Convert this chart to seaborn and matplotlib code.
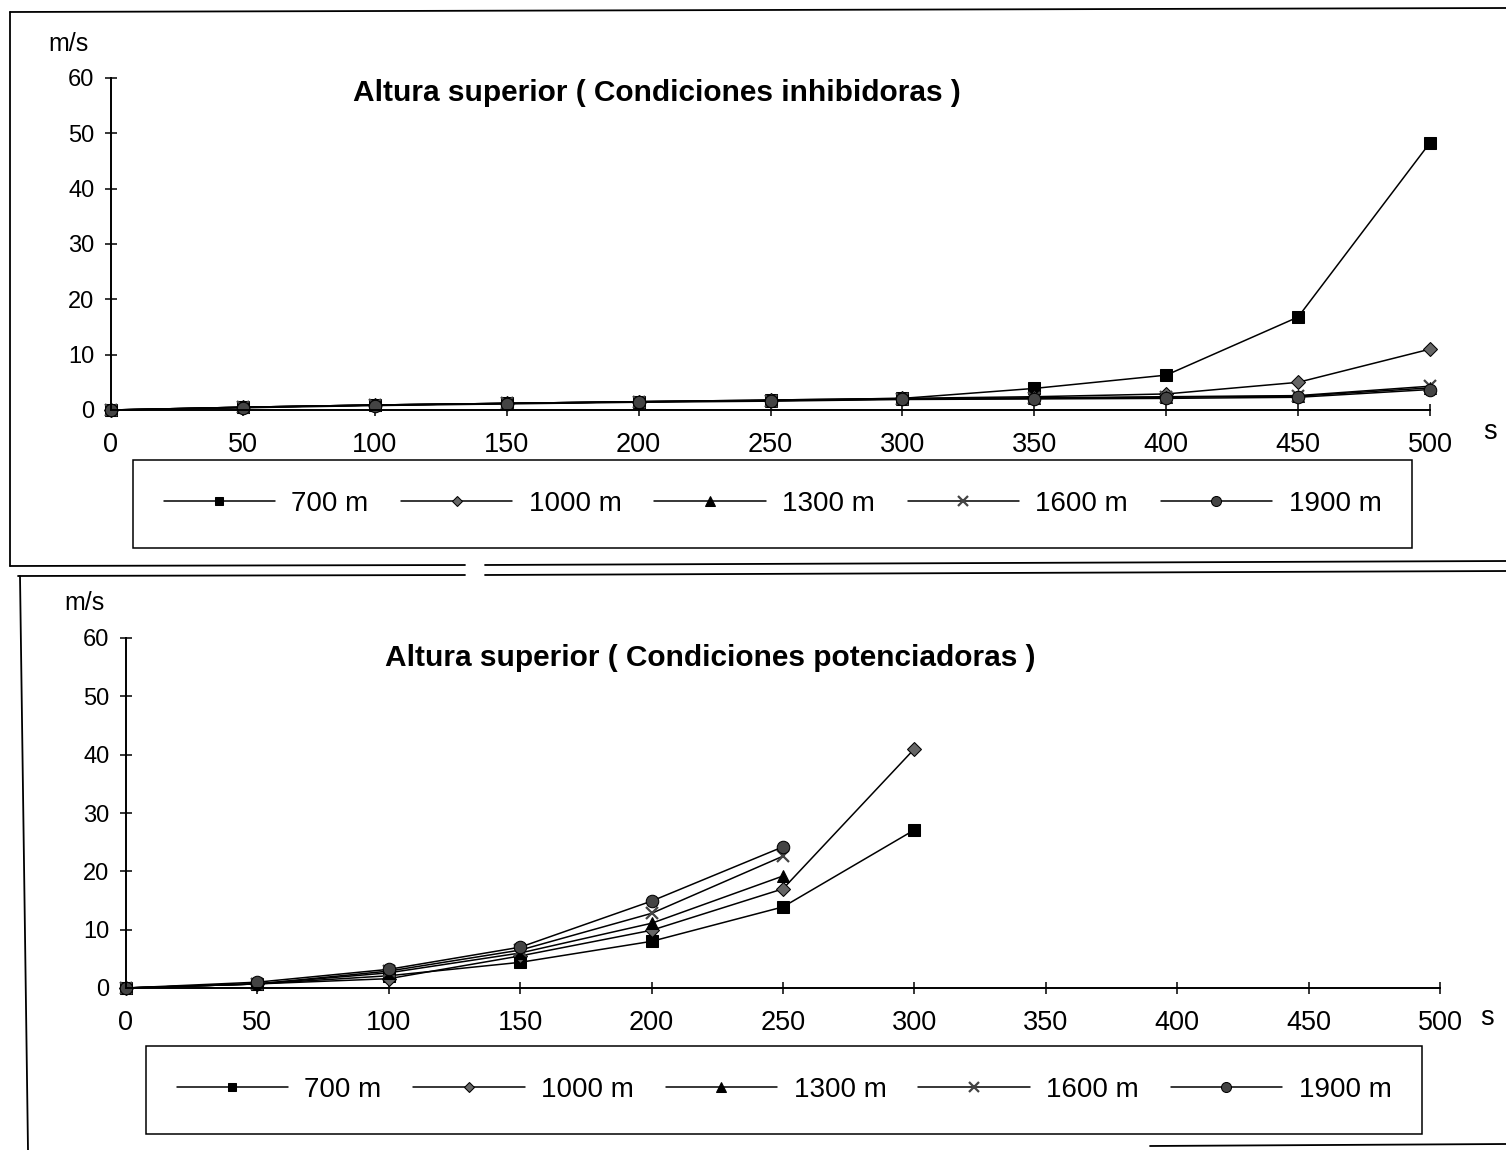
import matplotlib
matplotlib.use("Agg")
import matplotlib.pyplot as plt
from matplotlib.lines import Line2D
import pandas as pd
import seaborn as sns

# Time axis (s)
seconds = [0, 50, 100, 150, 200, 250, 300, 350, 400, 450, 500]

# Upper height, inhibiting conditions (m/s)
inhib_700 = [0, 0.5, 0.9, 1.2, 1.5, 1.8, 2.1, 3.9, 6.3, 16.8, 48.3]
inhib_1000 = [0, 0.5, 0.9, 1.2, 1.5, 1.8, 2.1, 2.4, 2.9, 5.0, 11.0]
inhib_1300 = [0, 0.5, 0.9, 1.2, 1.5, 1.7, 2.0, 2.1, 2.3, 2.5, 4.0]
inhib_1600 = [0, 0.5, 0.9, 1.2, 1.5, 1.7, 2.0, 2.2, 2.4, 2.6, 4.3]
inhib_1900 = [0, 0.4, 0.8, 1.1, 1.4, 1.6, 1.9, 2.0, 2.1, 2.3, 3.7]

# Upper height, enhancing conditions (m/s)
poten_700 = [0, 0.7, 2.1, 4.4, 8.0, 13.9, 27.1]
poten_1000 = [0, 0.7, 1.6, 5.5, 9.9, 17.0, 41.0]
poten_1300 = [0, 0.7, 2.6, 6.0, 11.1, 19.2]
poten_1600 = [0, 0.7, 2.9, 6.5, 12.8, 22.6]
poten_1900 = [0, 1.0, 3.2, 7.0, 14.9, 24.2]

series_labels = ["700 m", "1000 m", "1300 m", "1600 m", "1900 m"]
x_ticks = [0, 50, 100, 150, 200, 250, 300, 350, 400, 450, 500]
y_ticks = [0, 10, 20, 30, 40, 50, 60]

titles = ["Altura superior ( Condiciones inhibidoras )",
          "Altura superior ( Condiciones potenciadoras )"]

marker_styles = {
    "700 m": dict(marker="s", markersize=8, markerfacecolor="black", markeredgecolor="black"),
    "1000 m": dict(marker="D", markersize=7, markerfacecolor="#666666", markeredgecolor="black"),
    "1300 m": dict(marker="^", markersize=9, markerfacecolor="black", markeredgecolor="black"),
    "1600 m": dict(marker="x", markersize=9, markeredgewidth=1.6, markeredgecolor="#444444"),
    "1900 m": dict(marker="o", markersize=9, markerfacecolor="#444444", markeredgecolor="black"),
}

sns.set_style("white")
plt.rcParams["font.family"] = ["Liberation Sans", "DejaVu Sans"]
plt.rcParams["text.color"] = "black"
plt.rcParams["xtick.color"] = "black"
plt.rcParams["ytick.color"] = "black"

W, H = 1506, 1150
fig = plt.figure(figsize=(W / 100, H / 100), dpi=100)


def fx(px):
    return px / W


def fy(py):
    return 1 - py / H


def draw_panel(rect, title, title_xy, xs_list, ys_list, unit_xy, s_xy, legend_box):
    ax = fig.add_axes(rect)
    for xs, ys, lab in zip(xs_list, ys_list, series_labels):
        df = pd.DataFrame({"t": xs, "v": ys})
        sns.lineplot(data=df, x="t", y="v", ax=ax, color="black", linewidth=1.1,
                     label=lab, clip_on=False, **marker_styles[lab])
    ax.set_xlim(0, 500)
    ax.set_ylim(0, 60)
    ax.set_xticks(x_ticks)
    ax.set_yticks(y_ticks)
    ax.set_xlabel("")
    ax.set_ylabel("")
    for side in ("top", "right"):
        ax.spines[side].set_visible(False)
    for side in ("left", "bottom"):
        ax.spines[side].set_color("black")
        ax.spines[side].set_linewidth(1.4)
    ax.tick_params(axis="x", bottom=True, direction="inout", length=8, width=1.1,
                   color="black", labelcolor="black", pad=12, labelsize=19.5)
    ax.tick_params(axis="y", left=True, direction="inout", length=8, width=1.1,
                   color="black", labelcolor="black", pad=8, labelsize=17)
    ax.set_facecolor("none")

    fig.text(fx(title_xy[0]), fy(title_xy[1]), title, ha="center", va="center",
             fontsize=21.5, fontweight="bold")
    fig.text(fx(unit_xy[0]), fy(unit_xy[1]), "m/s", ha="center", va="center", fontsize=18)
    fig.text(fx(s_xy[0]), fy(s_xy[1]), "s", ha="center", va="center", fontsize=19.5)

    handles, labels = ax.get_legend_handles_labels()
    x0, y0, x1, y1 = legend_box
    leg = ax.legend(handles, labels, ncol=5, loc="center", mode="expand",
                    bbox_to_anchor=(fx(x0), fy(y1), fx(x1) - fx(x0), fy(y0) - fy(y1)),
                    bbox_transform=fig.transFigure, frameon=True, fancybox=False,
                    edgecolor="black", framealpha=1, fontsize=20, handlelength=4.0,
                    handletextpad=0.6, columnspacing=1.2, borderpad=1.1,
                    borderaxespad=0, markerscale=0.8)
    leg.get_frame().set_linewidth(1.1)
    return ax


draw_panel([fx(111), fy(410), fx(1430) - fx(111), fy(78) - fy(410)],
           titles[0], (657, 93),
           [seconds] * 5,
           [inhib_700, inhib_1000, inhib_1300, inhib_1600, inhib_1900],
           (68, 44), (1490, 432), (133, 462, 1412, 546))

draw_panel([fx(126), fy(988), fx(1440) - fx(126), fy(638) - fy(988)],
           titles[1], (710, 658),
           [seconds[:7], seconds[:7], seconds[:6], seconds[:6], seconds[:6]],
           [poten_700, poten_1000, poten_1300, poten_1600, poten_1900],
           (84, 603), (1487, 1018), (146, 1048, 1422, 1132))

# Panel frames
frame_kw = dict(color="black", linewidth=1.3, transform=fig.transFigure)
fig.add_artist(Line2D([fx(10), fx(1506)], [fy(12), fy(8)], **frame_kw))
fig.add_artist(Line2D([fx(10), fx(10)], [fy(12), fy(566)], **frame_kw))
fig.add_artist(Line2D([fx(10), fx(465)], [fy(566), fy(565)], **frame_kw))
fig.add_artist(Line2D([fx(485), fx(1506)], [fy(565), fy(561)], **frame_kw))
fig.add_artist(Line2D([fx(18), fx(465)], [fy(576), fy(575)], **frame_kw))
fig.add_artist(Line2D([fx(485), fx(1506)], [fy(575), fy(571)], **frame_kw))
fig.add_artist(Line2D([fx(20), fx(28)], [fy(576), fy(1150)], **frame_kw))
fig.add_artist(Line2D([fx(1150), fx(1506)], [fy(1146), fy(1144)], **frame_kw))

fig.savefig("out.png", dpi=100, facecolor="white")
